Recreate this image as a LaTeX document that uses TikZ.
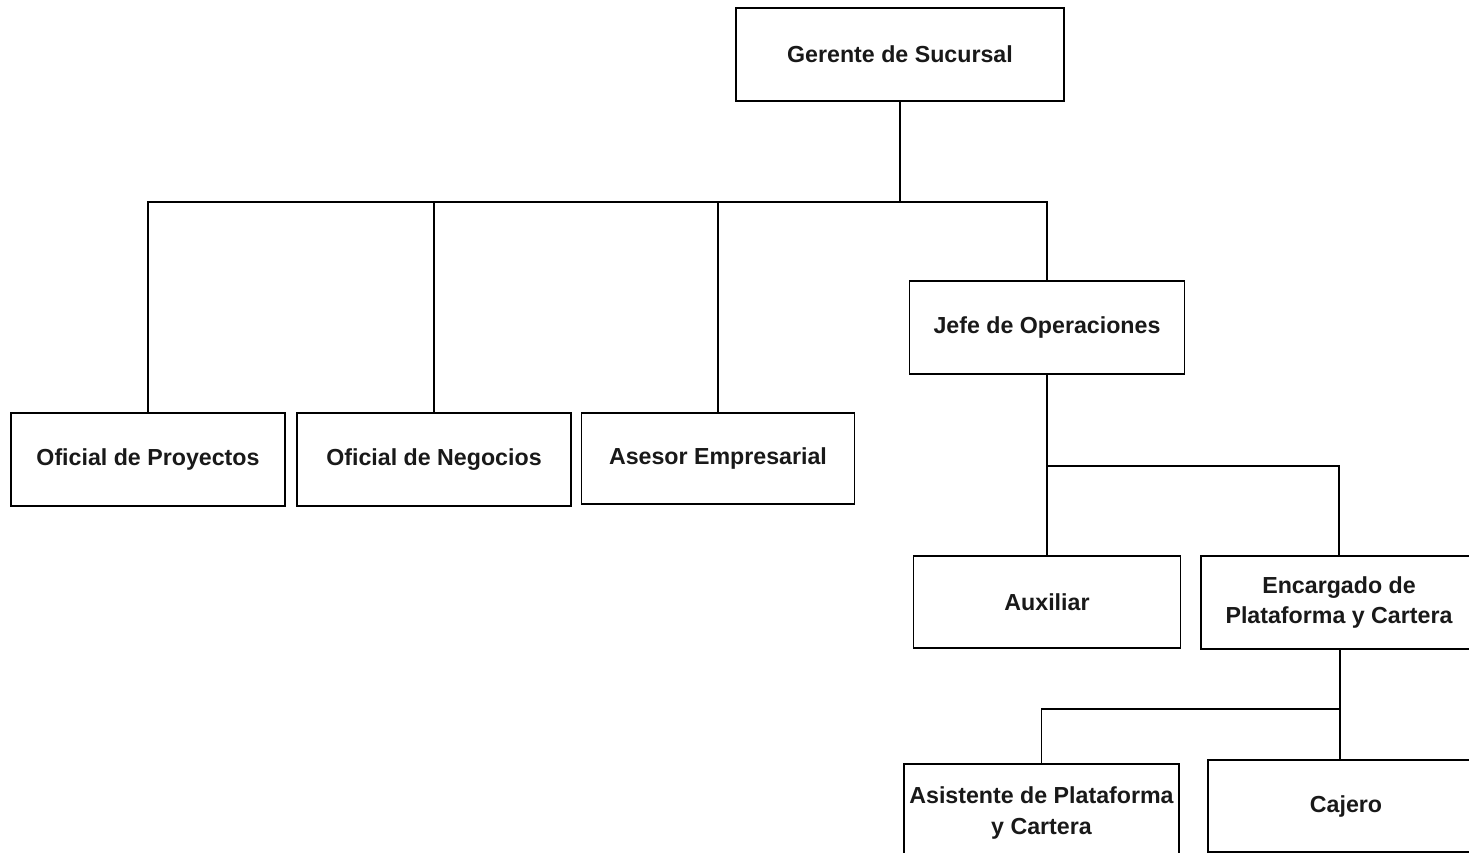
\documentclass[tikz,border=0pt]{standalone}
\usepackage{fontspec}
\setmainfont{Liberation Sans}
\begin{document}
\begin{tikzpicture}[x=1pt,y=-1pt,
  box/.style={draw=black, line width=1.5pt, fill=white, inner sep=0pt, align=center,
    font=\fontsize{23.2}{30.5}\selectfont\bfseries, text=black!90},
  conn/.style={draw=black, line width=1.5pt}]
\useasboundingbox (0,0) rectangle (1469,853);
\fill[white] (0,0) rectangle (1469,853);
% boxes
\node[box, minimum width=328pt, minimum height=93pt] (g) at (900,54.5) {Gerente de Sucursal};
\node[box, minimum width=274pt, minimum height=93pt] (op) at (148,459.5) {Oficial de Proyectos};
\node[box, minimum width=274pt, minimum height=93pt] (on) at (434,459.5) {Oficial de Negocios};
\node[box, minimum width=273pt, minimum height=91pt] (ae) at (718,458.5) {Asesor Empresarial};
\node[box, minimum width=275pt, minimum height=93pt] (jo) at (1047,327.5) {Jefe de Operaciones};
\node[box, minimum width=267pt, minimum height=92pt] (aux) at (1047,602) {Auxiliar};
\node[box, minimum width=276pt, minimum height=93pt] (enc) at (1339,602.5) {Encargado de\\Plataforma y Cartera};
\node[box, minimum width=275pt, minimum height=98pt] (asi) at (1041.5,813) {Asistente de Plataforma\\y Cartera};
\node[box, minimum width=276pt, minimum height=92pt] (caj) at (1346,806) {Cajero};
% junctions
\coordinate (j1) at (900,202);
\coordinate (j2) at (1047,466);
\coordinate (j3) at (1340,709);
% connectors
\draw[conn] (g.south) -- (j1);
\draw[conn] (op.north) |- (j1) -| (jo.north);
\draw[conn] (on.north) -- (on.north |- j1);
\draw[conn] (ae.north) -- (ae.north |- j1);
\draw[conn] (jo.south) -- (aux.north);
\draw[conn] (j2) -| (enc.north);
\draw[conn, line width=2.5pt] (enc.south -| j3) -- (j3);
\draw[conn] (j3) -| (asi.north);
\draw[conn] (j3) -- (caj.north -| j3);
\end{tikzpicture}
\end{document}
